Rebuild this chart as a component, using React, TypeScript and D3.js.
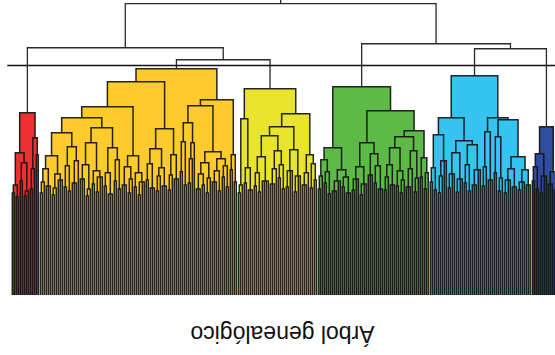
import React from "react";
import * as d3 from "d3";

type Tree = (number | Tree)[];

// Cluster colours (left to right)
const clusterColors = ["#ED3131", "#FDCB2B", "#E9E52F", "#5DBA46", "#35C4EF", "#2F4C9E"];

// Each tree: [mergeHeight, ...children]; a number child = that many leaves
const red: Tree = [18.2,
  [14.2, [11.0, [10.2, 2], [9.8, 2]], [13.2, [11.4, 2], [10.4, [9.9, 2], 1]]],
  [15.7, [12.6, [10.6, 2], 1], [14.0, 2]],
];

const orange: Tree = [22.6,
  [21.3,
    [18.8,
      [17.7,
        [16.2,
          [13.9, [12.6, [11.3, [10.2, 2], 1], [10.9, 3]], [12.1, [10.7, [10.0, 2], 1], [11.5, 3]]],
          [14.8, [12.9, [10.8, 2], [10.4, 2]], [13.4, [11.2, 3], 1]],
        ],
        [16.7,
          [15.2, [13.0, [11.6, 3], [10.6, [9.9, 2], 1]], [12.4, [11.1, 2], [11.8, [10.3, 2], 2]]],
          [14.7, [12.2, [10.9, 2], [10.1, 3]], [13.5, [11.4, 2], [10.6, 2]]],
        ],
      ],
      [13.9, [12.8, [11.0, 3], [11.6, [10.2, 2], 1]], [12.2, [10.8, 2], [11.3, [10.0, 2], 2]]],
    ],
    [16.6,
      [14.6, [13.1, [11.5, 2], [10.7, 3]], [12.7, [11.9, [10.4, 2], 1], [10.9, 3]]],
      [14.0, [12.0, [10.5, 2], 1], [11.6, 3]],
    ],
  ],
  [19.5,
    [18.9,
      [17.2, [15.3, [12.3, 2], [11.0, 2]], [15.2, [13.6, [11.2, 2], 1], 1]],
      [14.3,
        [13.2, [12.1, [10.6, 3], [11.0, 2]], [11.7, [10.2, 2], 1]],
        [13.6, [12.4, [11.3, 3], [10.4, 2]], [12.9, [11.8, 2], [10.8, 2]]],
      ],
    ],
    [14.0, [12.5, 2], [11.3, 2]],
  ],
];

const yellow: Tree = [20.6,
  [17.6, [11.0, [10.2, 2], 1], [12.7, [11.2, 2], [10.5, 3]]],
  [18.1,
    [16.8,
      [15.9, [13.8, [12.2, [10.9, 2], [10.3, 2]], [11.4, 4]], [14.4, [12.6, [11.1, 3], 1], [13.0, [11.7, 2], [10.6, 2]]]],
      [14.5, [12.4, [10.8, 2], 2], [11.9, [10.3, 2], 2]],
    ],
    [14.0, [12.2, [11.0, 3], 1], [13.1, [10.7, 2], [11.5, 2]]],
  ],
];

const green: Tree = [20.8,
  [14.7,
    [13.5, [11.9, [10.6, 2], 1], [12.3, [11.2, 2], [10.1, 2]]],
    [12.5, [11.4, [10.4, 3], 2], [11.8, [10.8, 2], [10.2, 3]]],
  ],
  [18.4,
    [15.2,
      [12.8, [11.6, [10.5, 2], 2], [11.1, [10.0, 2], 2]],
      [14.1, [12.0, 3], [12.9, [11.2, 2], [10.6, 3]]],
    ],
    [16.4,
      [15.8,
        [14.7, [13.0, [11.8, [10.5, 2], 1], [11.0, 3]], [12.4, [10.9, 2], [11.5, [10.2, 2], 1]]],
        [14.4, [12.6, [10.8, 3], 1], [11.7, [10.3, 2], 1]],
      ],
      [13.7, [11.8, 2], [12.2, [10.6, 2], 1]],
    ],
  ],
];

const blue: Tree = [21.9,
  [17.7,
    [16.0, [12.7, [11.3, 2], [10.5, 2]], [13.4, [11.9, [10.2, 2], 1], 2]],
    [15.4,
      [14.2, [12.1, [10.7, 2], 2], [11.6, [10.3, 2], 2]],
      [15.0, [13.0, [11.2, 2], [10.4, 2]], [12.5, [11.0, 3], 2]],
    ],
  ],
  [17.7,
    [16.3, [12.8, [10.9, 2], 1], [11.5, 3]],
    [17.5,
      [15.8, [12.2, 2], [11.7, [10.4, 2], 1]],
      [13.8, [12.6, [11.5, [10.2, 2], 2], [10.8, 3]], [12.5, [11.3, [10.5, 2], 2], [11.0, 3]]],
    ],
  ],
];

const darkBlue: Tree = [16.8,
  [14.1, [12.8, [11.4, 2], [10.6, 2]], [11.9, [10.2, 2], 2]],
  [12.3, [11.1, 3], [10.5, 3]],
];

// Upper (uncoloured) merge heights
const upperHeights = [29.1, 24.7, 23.5, 25.1, 24.6]; // root, left, left-right, right, right-right
const cutHeight = 22.93;
const title = "Árbol genealógico";

interface N { h: number; color: string | null; children: N[]; }

function build(t: Tree, color: string | null): N {
  const [h, ...rest] = t as any[];
  const children: N[] = [];
  rest.forEach((c: any) => {
    if (typeof c === "number") {
      for (let i = 0; i < c; i++) children.push({ h: 0, color, children: [] });
    } else children.push(build(c, color));
  });
  return { h, color, children };
}

export default function App() {
  const W = 555, H = 355;
  const cl = [red, orange, yellow, green, blue, darkBlue].map((t, i) => build(t, clusterColors[i]));
  const top: N = {
    h: upperHeights[0], color: null, children: [
      { h: upperHeights[1], color: null, children: [cl[0], { h: upperHeights[2], color: null, children: [cl[1], cl[2]] }] },
      { h: upperHeights[3], color: null, children: [cl[3], { h: upperHeights[4], color: null, children: [cl[4], cl[5]] }] },
    ],
  };
  const root = d3.hierarchy<N>(top, (d) => (d.children.length ? d.children : null));
  const leaves = root.leaves();
  const x = d3.scaleLinear().domain([0, leaves.length - 1]).range([12.3, 558.3]);
  const y = d3.scaleLinear().domain([0, upperHeights[0]]).range([295, 3.7]);
  const xs = new Map<any, number>();
  leaves.forEach((l, i) => xs.set(l, x(i)));
  root.eachAfter((n) => {
    if (n.children) {
      const f = xs.get(n.children[0])!;
      const la = xs.get(n.children[n.children.length - 1])!;
      xs.set(n, (f + la) / 2);
    }
  });
  const internals = root.descendants().filter((d) => d.children);
  const fills: React.ReactNode[] = [];
  const strokes: React.ReactNode[] = [];
  internals.forEach((d, i) => {
    const ch = d.children!;
    const x1 = xs.get(ch[0])!;
    const x2 = xs.get(ch[ch.length - 1])!;
    const yn = y(d.data.h);
    if (d.data.color) {
      fills.push(<rect key={"f" + i} x={x1} y={yn} width={x2 - x1} height={y(0) - yn} fill={d.data.color} />);
    }
    let p = `M${x1},${y(ch[0].data.h)}V${yn}H${x2}V${y(ch[ch.length - 1].data.h)}`;
    for (let k = 1; k < ch.length - 1; k++) p += `M${xs.get(ch[k])},${y(ch[k].data.h)}V${yn}`;
    strokes.push(
      <path key={"s" + i} d={p} fill="none" stroke={d.data.color ? "#141414" : "#2a2a2a"}
        strokeWidth={d.data.color ? 1.5 : 1.3} strokeOpacity={d.data.color ? 0.92 : 1} />
    );
  });
  const rx = xs.get(root)!;
  return (
    <svg width={W} height={H} style={{ position: "absolute", left: 0, top: 0, background: "#fff" }}>
      {fills}
      {strokes}
      <line x1={rx} x2={rx} y1={y(upperHeights[0])} y2={-2} stroke="#2a2a2a" strokeWidth={1.3} />
      <line x1={7.3} x2={W} y1={y(cutHeight)} y2={y(cutHeight)} stroke="#111" strokeWidth={1.6} />
      <text transform={`translate(282.5,326) rotate(180)`} textAnchor="middle"
        fontFamily="'Liberation Sans', Arial, sans-serif" fontSize={23} fill="#111">{title}</text>
    </svg>
  );
}
